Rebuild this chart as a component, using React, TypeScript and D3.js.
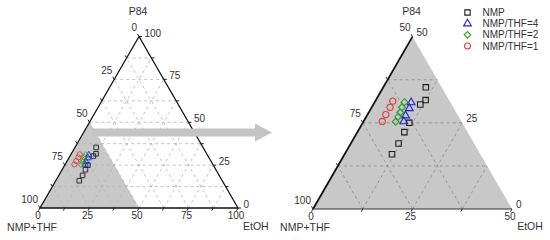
import React, { useEffect, useRef } from 'react';
import * as d3 from 'd3';

// series: P84 and EtOH content (%), NMP+THF is the rest
const seriesNames = ['NMP', 'NMP/THF=4', 'NMP/THF=2', 'NMP/THF=1'];
const seriesColors = ['#1e1e1e', '#2323d8', '#2a9d2a', '#e43c3c'];
const seriesSymbols = [d3.symbolSquare, d3.symbolTriangle, d3.symbolDiamond2, d3.symbolCircle];

const nmpP84 = [35.3, 31.6, 30.3, 25.0, 22.3, 19.0, 15.9];
const nmpEtOH = [10.7, 12.5, 11.8, 11.7, 11.8, 12.0, 11.9];
const thf4P84 = [30.9, 29.2, 27.1, 25.4];
const thf4EtOH = [9.2, 9.6, 9.7, 10.1];
const thf2P84 = [31.0, 29.5, 28.0, 26.8, 25.3];
const thf2EtOH = [7.5, 7.6, 7.9, 8.0, 8.1];
const thf1P84 = [31.3, 29.5, 27.4, 25.4];
const thf1EtOH = [4.4, 4.6, 4.6, 4.7];

// tick labels
const fullNTicks = [0, 25, 50, 75, 100];
const fullPTicks = [0, 25, 50, 75, 100];
const fullETicks = [0, 25, 50, 75, 100];
const zoomNTicks = [50, 75, 100];
const zoomPTicks = [0, 25, 50];
const zoomETicks = [0, 25, 50];

const FONT = '"Liberation Sans", Arial, sans-serif';

const App = () => {
  const svgRef = useRef<SVGSVGElement>(null);

  useEffect(() => {
    if (!svgRef.current) return;
    const svg = d3.select(svgRef.current);
    svg.selectAll('*').remove();

    const pointsP = [nmpP84, thf4P84, thf2P84, thf1P84];
    const pointsE = [nmpEtOH, thf4EtOH, thf2EtOH, thf1EtOH];

    const panels = [
      { x0: 40, y0: 208, side: 198, max: 100, nTicks: fullNTicks, pTicks: fullPTicks, eTicks: fullETicks, zoom: false },
      { x0: 313, y0: 209, side: 199, max: 50, nTicks: zoomNTicks, pTicks: zoomPTicks, eTicks: zoomETicks, zoom: true },
    ];

    const makeProj = (pan) => {
      const h = (pan.side * Math.sqrt(3)) / 2;
      const sx = d3.scaleLinear().domain([0, pan.max]).range([0, pan.side]);
      const sy = d3.scaleLinear().domain([0, pan.max]).range([pan.y0, pan.y0 - h]);
      return (p: number, e: number): [number, number] => [pan.x0 + sx(e) + sx(p) / 2, sy(p)];
    };

    const line = d3.line();

    panels.forEach((pan) => {
      const proj = makeProj(pan);
      const g = svg.append('g');
      const outline = [proj(0, 0), proj(pan.max, 0), proj(0, pan.max)];

      if (pan.zoom) {
        g.append('path').attr('d', line(outline) + 'Z').attr('fill', '#c8c8c8');
      } else {
        // shaded region that is zoomed on the right
        g.append('path')
          .attr('d', line([proj(0, 0), proj(50, 0), proj(0, 50)]) + 'Z')
          .attr('fill', '#c8c8c8');
      }

      // grid
      const steps = d3.range(12.5, pan.max - 0.1, 12.5);
      const grid: [number, number][][] = [];
      steps.forEach((v) => {
        grid.push([proj(v, 0), proj(v, pan.max - v)]);
        grid.push([proj(0, v), proj(pan.max - v, v)]);
        grid.push([proj(0, v), proj(v, 0)]);
      });
      g.selectAll('.grid')
        .data(grid)
        .join('path')
        .attr('d', (d) => line(d))
        .attr('fill', 'none')
        .attr('stroke', pan.zoom ? '#8a8a8a' : '#b4b4b4')
        .attr('stroke-width', 0.8)
        .attr('stroke-dasharray', '3,3');

      // axes
      if (pan.zoom) {
        g.append('path').attr('d', line([proj(0, 0), proj(pan.max, 0)])).attr('stroke', '#111').attr('stroke-width', 1.8);
        g.append('path').attr('d', line([proj(0, 0), proj(0, pan.max)])).attr('stroke', '#333').attr('stroke-width', 1);
      } else {
        g.append('path').attr('d', line(outline) + 'Z').attr('fill', 'none').attr('stroke', '#111').attr('stroke-width', 1.3);
      }

      // ticks
      const tickVals = d3.range(0, pan.max + 0.1, 12.5);
      const tickSegs: [number, number][][] = [];
      tickVals.forEach((v) => {
        const l = proj(pan.max - v, 0);
        tickSegs.push([l, [l[0] - 1.5, l[1] - 2.6]]);
        const b = proj(0, v);
        tickSegs.push([b, [b[0] - 1.5, b[1] + 2.6]]);
        if (!pan.zoom) {
          const r = proj(v, pan.max - v);
          tickSegs.push([r, [r[0] + 3, r[1]]]);
        }
      });
      g.selectAll('.tick')
        .data(tickSegs)
        .join('path')
        .attr('d', (d) => line(d))
        .attr('stroke', '#222')
        .attr('stroke-width', 1);

      const label = (x: number, y: number, t: string, anchor: string) =>
        g.append('text')
          .attr('x', x)
          .attr('y', y)
          .attr('text-anchor', anchor)
          .attr('font-family', FONT)
          .attr('font-size', 10)
          .attr('fill', '#333')
          .text(t);

      pan.nTicks.forEach((v) => {
        const [x, y] = proj(100 - v, 0);
        label(x - 2, y - 5.5, String(v), 'end');
      });
      pan.pTicks.forEach((v) => {
        const [x, y] = proj(v, pan.max - v);
        label(x + (pan.zoom ? 4 : 5.5), y - (pan.zoom ? 1 : 0), String(v), 'start');
      });
      pan.eTicks.forEach((v) => {
        const [x, y] = proj(0, v);
        label(x - 2, y + 11, String(v), 'middle');
      });

      // axis titles
      const title = (x: number, y: number, t: string, anchor: string) =>
        g.append('text')
          .attr('x', x)
          .attr('y', y)
          .attr('text-anchor', anchor)
          .attr('font-family', FONT)
          .attr('font-size', 10.5)
          .attr('fill', '#333')
          .text(t);
      const apex = proj(pan.max, 0);
      const bl = proj(0, 0);
      const br = proj(0, pan.max);
      title(apex[0] - 1, 14.5, 'P84', 'middle');
      title(bl[0] - 8, 231, 'NMP+THF', 'middle');
      if (pan.zoom) title(br[0] + 18, 230, 'EtOH', 'middle');
      else title(br[0] + 5, 230, 'EtOH', 'start');

      // data markers
      const k = pan.zoom ? 1 : 0.7;
      seriesNames.forEach((name, i) => {
        const pts = pointsP[i].map((p, j) => proj(p, pointsE[i][j]));
        g.selectAll('.m' + i)
          .data(pts)
          .join('path')
          .attr('transform', (d) => `translate(${d[0]},${d[1]})`)
          .attr('d', d3.symbol(seriesSymbols[i], (i === 1 ? 26 : 30) * k)())
          .attr('fill', 'none')
          .attr('stroke', seriesColors[i])
          .attr('stroke-width', pan.zoom ? 1.1 : 0.9);
      });
    });

    // arrow from the shaded area to the zoomed panel
    const arrowY = 132.5;
    svg.append('path')
      .attr('d', line([
        [92, arrowY - 4], [255, arrowY - 4], [255, arrowY - 9], [272, arrowY],
        [255, arrowY + 9], [255, arrowY + 4], [92, arrowY + 4],
      ]) + 'Z')
      .attr('fill', '#c4c4c4');

    // legend
    const ly = d3.scalePoint().domain(seriesNames).range([12.5, 46]);
    const lg = svg.append('g');
    seriesNames.forEach((name, i) => {
      lg.append('path')
        .attr('transform', `translate(467.5,${ly(name)})`)
        .attr('d', d3.symbol(seriesSymbols[i], i === 1 ? 26 : 28)())
        .attr('fill', 'none')
        .attr('stroke', seriesColors[i])
        .attr('stroke-width', 1.1);
      lg.append('text')
        .attr('x', 482.5)
        .attr('y', (ly(name) || 0) + 3.6)
        .attr('font-family', FONT)
        .attr('font-size', 10)
        .attr('fill', '#333')
        .text(name);
    });
  }, []);

  return (
    <svg
      ref={svgRef}
      width={550}
      height={240}
      style={{ position: 'absolute', left: 0, top: 0, background: '#fff' }}
    />
  );
};

export default App;
